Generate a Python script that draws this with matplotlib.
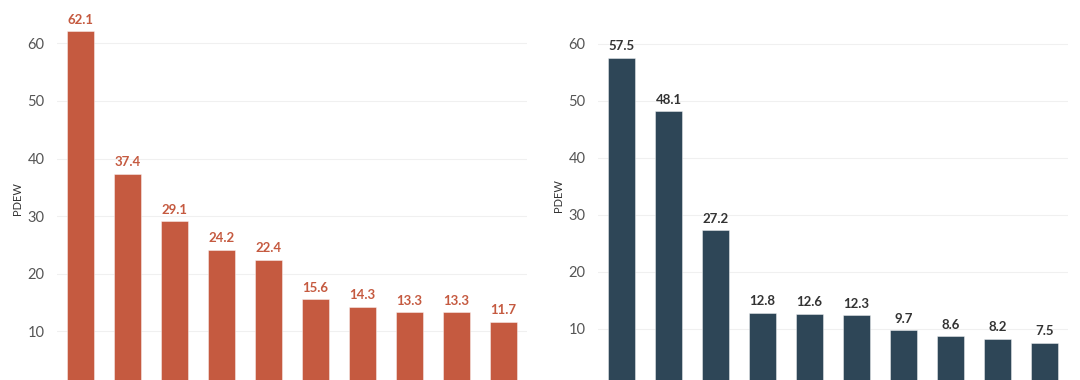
import matplotlib
matplotlib.use("Agg")
import matplotlib.pyplot as plt
import numpy as np

plt.rcParams['font.family'] = ['Lato', 'DejaVu Sans']

categories_left = [f"L{i+1}" for i in range(10)]
values_left = [62.1, 37.4, 29.1, 24.2, 22.4, 15.6, 14.3, 13.3, 13.3, 11.7]
categories_right = [f"R{i+1}" for i in range(10)]
values_right = [57.5, 48.1, 27.2, 12.8, 12.6, 12.3, 9.7, 8.6, 8.2, 7.5]
yticks = [10, 20, 30, 40, 50, 60]

W, H = 1080, 380
fig = plt.figure(figsize=(W / 100, H / 100), dpi=100)
fig.patch.set_facecolor("white")


def make_ax(left_px, right_px, zero_px, ppu, top_val):
    top_px = zero_px - top_val * ppu
    ax = fig.add_axes([left_px / W, (H - zero_px) / H,
                       (right_px - left_px) / W, (zero_px - top_px) / H])
    ax.set_ylim(0, top_val)
    return ax


def draw(ax, cats, vals, color, label_color):
    x = np.arange(len(cats))
    ax.bar(x, vals, width=0.56, color=color, edgecolor=(1, 1, 1, 0.5),
           linewidth=0.6, zorder=3)
    for xi, v in zip(x, vals):
        ax.annotate(f"{v:.1f}", (xi, v), xytext=(0, 4), textcoords="offset points",
                    ha="center", va="bottom", fontsize=9.5, fontweight="bold",
                    color=label_color)
    ax.set_xlim(-0.5, len(cats) - 0.5)
    # category labels sit below the visible area in the reference
    ax.set_xticks(x)
    ax.set_xticklabels([])
    ax.set_yticks(yticks)
    ax.set_yticklabels([str(t) for t in yticks])
    ax.tick_params(axis="y", length=0, pad=9, labelsize=10.5, labelcolor="#555555")
    ax.tick_params(axis="x", length=0)
    ax.grid(axis="y", color="#f0f0f0", linewidth=0.8, zorder=0)
    for s in ax.spines.values():
        s.set_visible(False)
    ax.set_ylabel("PDEW", fontsize=8, color="#333333", labelpad=3)


ax1 = make_ax(57, 527, 389, 5.76, 66)
draw(ax1, categories_left, values_left, "#C55A40", "#C55A40")
ax2 = make_ax(598, 1068, 385.5, 5.7, 66.5)
draw(ax2, categories_right, values_right, "#2E4657", "#333333")

fig.savefig("out.png", dpi=100)
